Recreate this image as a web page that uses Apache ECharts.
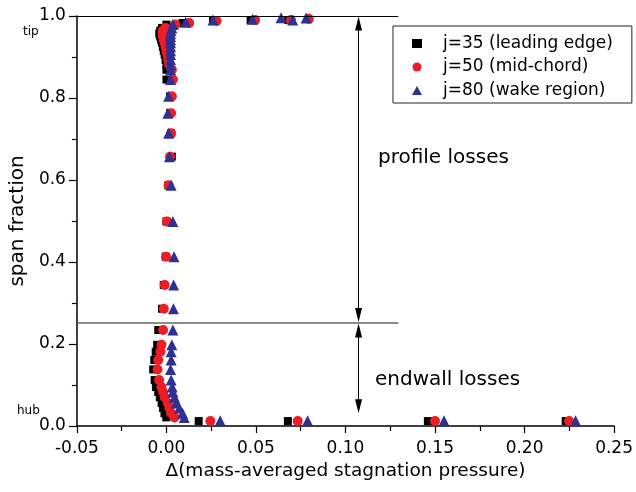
<!DOCTYPE html>
<html>
<head>
<meta charset="utf-8">
<script src="https://cdn.jsdelivr.net/npm/echarts@6/dist/echarts.min.js"></script>
<style>html,body{margin:0;padding:0;background:#fff}#c{width:636px;height:492px}</style>
</head>
<body>
<div id="c"></div>
<script>
// ---- data ----
const seriesNames = ['j=35 (leading edge)', 'j=50 (mid-chord)', 'j=80 (wake region)'];
const xTicks = ['-0.05', '0.00', '0.05', '0.10', '0.15', '0.20', '0.25'];
const yTicks = ['0.0', '0.2', '0.4', '0.6', '0.8', '1.0'];

const spanJ35 = [0.012, 0.012, 0.012, 0.012, 0.021, 0.031, 0.044, 0.056, 0.070, 0.083, 0.095, 0.112, 0.138, 0.161, 0.181, 0.198, 0.234, 0.286, 0.344, 0.413, 0.499, 0.587, 0.657, 0.714, 0.763, 0.804, 0.845, 0.869, 0.881, 0.893, 0.906, 0.915, 0.925, 0.935, 0.942, 0.950, 0.957, 0.964, 0.971, 0.979, 0.983, 0.988, 0.990, 0.990];
const dpJ35   = [0.0180, 0.0678, 0.1460, 0.2230, -0.0001, -0.0011, -0.0019, -0.0027, -0.0037, -0.0046, -0.0059, -0.0066, -0.0074, -0.0068, -0.0060, -0.0052, -0.0046, -0.0025, -0.0015, -0.0004, 0.0000, 0.0010, 0.0030, 0.0026, 0.0020, 0.0020, 0.0000, 0.0000, 0.0000, -0.0005, -0.0010, -0.0015, -0.0020, -0.0025, -0.0030, -0.0035, -0.0040, -0.0035, -0.0025, 0.0000, 0.0090, 0.0260, 0.0470, 0.0680];

const spanJ50 = [0.012, 0.012, 0.012, 0.012, 0.021, 0.031, 0.044, 0.056, 0.070, 0.083, 0.095, 0.112, 0.138, 0.161, 0.181, 0.198, 0.234, 0.286, 0.344, 0.413, 0.499, 0.587, 0.657, 0.714, 0.763, 0.804, 0.845, 0.869, 0.881, 0.893, 0.906, 0.915, 0.925, 0.935, 0.942, 0.950, 0.957, 0.964, 0.971, 0.979, 0.983, 0.988, 0.990, 0.990, 0.993];
const dpJ50   = [0.0245, 0.0733, 0.1500, 0.2249, 0.0045, 0.0026, 0.0017, 0.0008, -0.0010, -0.0019, -0.0028, -0.0041, -0.0050, -0.0046, -0.0034, -0.0028, -0.0019, -0.0015, -0.0010, -0.0002, 0.0003, 0.0012, 0.0020, 0.0026, 0.0026, 0.0030, 0.0036, 0.0030, 0.0015, 0.0010, 0.0005, 0.0000, -0.0005, -0.0010, -0.0015, -0.0020, -0.0022, -0.0020, -0.0005, 0.0050, 0.0127, 0.0280, 0.0495, 0.0695, 0.0795];

const spanJ80 = [0.013, 0.013, 0.013, 0.013, 0.021, 0.031, 0.044, 0.056, 0.070, 0.083, 0.095, 0.112, 0.138, 0.161, 0.181, 0.198, 0.234, 0.286, 0.344, 0.413, 0.499, 0.587, 0.657, 0.714, 0.763, 0.804, 0.845, 0.869, 0.881, 0.893, 0.906, 0.915, 0.925, 0.935, 0.942, 0.950, 0.957, 0.964, 0.971, 0.979, 0.985, 0.990, 0.992, 0.996, 0.990, 0.995];
const dpJ80   = [0.0300, 0.0788, 0.1550, 0.2285, 0.0099, 0.0090, 0.0072, 0.0054, 0.0045, 0.0036, 0.0032, 0.0026, 0.0023, 0.0026, 0.0026, 0.0030, 0.0036, 0.0039, 0.0040, 0.0042, 0.0036, 0.0026, 0.0017, 0.0012, 0.0008, 0.0012, 0.0023, 0.0023, 0.0023, 0.0023, 0.0023, 0.0023, 0.0023, 0.0023, 0.0023, 0.0023, 0.0023, 0.0025, 0.0030, 0.0036, 0.0107, 0.0260, 0.0480, 0.0640, 0.0705, 0.0780];

// region annotations (data coords)
const regionSplit = 0.252;
const refLineEnd = 0.1295;
const arrowX = 0.1073;

const FONT = 'DejaVu Sans';
const pairs = (xs, ys) => xs.map((x, i) => [x, ys[i]]);

const chart = echarts.init(document.getElementById('c'), null, {renderer: 'canvas'});
chart.setOption({
  animation: false,
  backgroundColor: '#fff',
  grid: {left: 73, right: 14, top: 16, bottom: 66, containLabel: false},
  xAxis: {
    type: 'value', min: -0.05, max: 0.25, interval: 0.05,
    name: 'Δ(mass-averaged stagnation pressure)', nameLocation: 'middle', nameGap: 31,
    nameTextStyle: {fontFamily: FONT, fontSize: 18.5, color: '#000'},
    axisLine: {show: true, onZero: false, lineStyle: {color: '#000', width: 1.5}},
    axisTick: {show: true, inside: false, length: 7, lineStyle: {color: '#000', width: 1.2}},
    minorTick: {show: true, splitNumber: 2, length: 5, lineStyle: {color: '#000', width: 1.2}},
    splitLine: {show: false},
    axisLabel: {fontFamily: FONT, fontSize: 17, color: '#000', margin: 14,
      formatter: v => xTicks[Math.round((v + 0.05) / 0.05)]}
  },
  yAxis: {
    type: 'value', min: 0, max: 1, interval: 0.2,
    name: 'span fraction', nameLocation: 'middle', nameGap: 43,
    nameTextStyle: {fontFamily: FONT, fontSize: 20, color: '#000'},
    axisLine: {show: true, onZero: false, lineStyle: {color: '#000', width: 1.5}},
    axisTick: {show: true, inside: false, length: 8, lineStyle: {color: '#000', width: 1.2}},
    minorTick: {show: true, splitNumber: 2, length: 5, lineStyle: {color: '#000', width: 1.2}},
    splitLine: {show: false},
    axisLabel: {fontFamily: FONT, fontSize: 17, color: '#000', margin: 11,
      formatter: v => yTicks[Math.round(v / 0.2)]}
  },
  legend: {
    data: seriesNames,
    orient: 'vertical', left: 393, top: 26,
    itemWidth: 10, itemHeight: 9, itemGap: 6.5,
    padding: [9, 19, 4, 19],
    borderColor: '#222', borderWidth: 1,
    textStyle: {fontFamily: FONT, fontSize: 17, color: '#000', padding: [0, 0, 0, 16]}
  },
  graphic: [
    {type: 'text', left: 23, top: 26, style: {text: 'tip', font: '12px "DejaVu Sans"', fill: '#000'}},
    {type: 'text', left: 17, top: 405, style: {text: 'hub', font: '12px "DejaVu Sans"', fill: '#000'}},
    {type: 'text', left: 378, top: 148, style: {text: 'profile losses', font: '20px "DejaVu Sans"', fill: '#000'}},
    {type: 'text', left: 375, top: 370, style: {text: 'endwall losses', font: '20px "DejaVu Sans"', fill: '#000'}}
  ],
  series: [
    {name: seriesNames[0], type: 'scatter', symbol: 'rect', symbolSize: 8, z: 2,
     itemStyle: {color: '#000', opacity: 1}, data: pairs(dpJ35, spanJ35)},
    {name: seriesNames[1], type: 'scatter', symbol: 'circle', symbolSize: 10, z: 3,
     itemStyle: {color: '#ee1c25', opacity: 1}, data: pairs(dpJ50, spanJ50)},
    {name: seriesNames[2], type: 'scatter', symbol: 'triangle', symbolSize: 11, z: 4,
     itemStyle: {color: '#2e3192', opacity: 1}, data: pairs(dpJ80, spanJ80)},
    {name: 'annotations', type: 'scatter', data: [], z: 1,
     markLine: {
       silent: true, animation: false,
       label: {show: false},
       data: [
         [{coord: [-0.05, 1.0], symbol: 'none', lineStyle: {color: '#000', width: 1.2, type: 'solid'}},
          {coord: [refLineEnd, 1.0], symbol: 'none'}],
         [{coord: [-0.05, regionSplit], symbol: 'none', lineStyle: {color: '#666', width: 1.5, type: 'solid'}},
          {coord: [refLineEnd, regionSplit], symbol: 'none'}],
         [{coord: [arrowX, 0.982], symbol: 'triangle', symbolSize: [7, 14], lineStyle: {color: '#000', width: 1, type: 'solid'}},
          {coord: [arrowX, 0.271], symbol: 'triangle', symbolSize: [7, 14]}],
         [{coord: [arrowX, 0.233], symbol: 'triangle', symbolSize: [7, 14], lineStyle: {color: '#000', width: 1, type: 'solid'}},
          {coord: [arrowX, 0.048], symbol: 'triangle', symbolSize: [7, 14]}]
       ]
     }}
  ]
});
</script>
</body>
</html>
